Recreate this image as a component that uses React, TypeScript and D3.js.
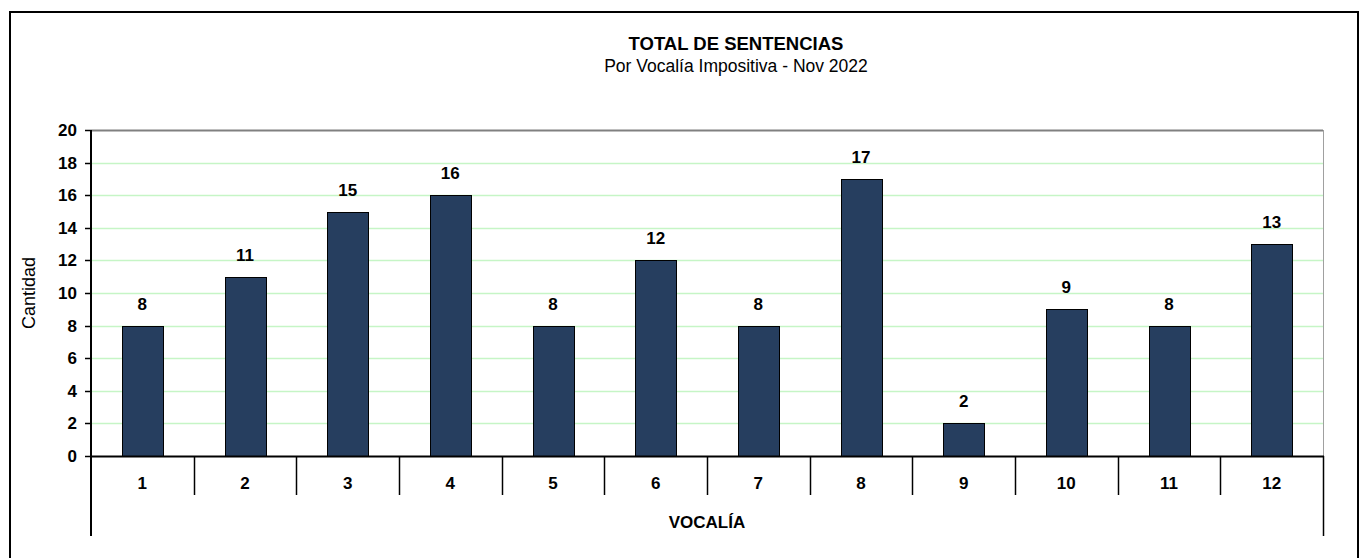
import React, { useEffect, useRef } from 'react';
import * as d3 from 'd3';

const categories = ['1', '2', '3', '4', '5', '6', '7', '8', '9', '10', '11', '12'];
const values = [8, 11, 15, 16, 8, 12, 8, 17, 2, 9, 8, 13];
const yTicks = [0, 2, 4, 6, 8, 10, 12, 14, 16, 18, 20];

const title = 'TOTAL DE SENTENCIAS';
const subtitle = 'Por Vocalía Impositiva - Nov 2022';
const xTitle = 'VOCALÍA';
const yTitle = 'Cantidad';

const App = () => {
  const svgRef = useRef<SVGSVGElement>(null);

  useEffect(() => {
    if (!svgRef.current) return;
    const svg = d3.select(svgRef.current);
    svg.selectAll('*').remove();

    const width = 1367;
    const height = 558;
    const plot = { left: 91, right: 1323, top: 130, bottom: 456 };
    const font = 'Liberation Sans, Arial, sans-serif';

    svg.attr('width', width).attr('height', height).style('font-family', font);

    // outer frame
    svg.append('rect')
      .attr('x', 10).attr('y', 12)
      .attr('width', 1348).attr('height', 600)
      .attr('fill', '#fff')
      .attr('stroke', '#000')
      .attr('stroke-width', 2);

    const x = d3.scaleBand()
      .domain(categories)
      .range([plot.left, plot.right])
      .paddingInner(0)
      .paddingOuter(0);

    const y = d3.scaleLinear()
      .domain([0, 20])
      .range([plot.bottom, plot.top]);

    // grid
    svg.append('g')
      .selectAll('line')
      .data(yTicks.filter(t => t > 0))
      .enter()
      .append('line')
      .attr('x1', plot.left).attr('x2', plot.right)
      .attr('y1', d => Math.round(y(d)) + 0.5)
      .attr('y2', d => Math.round(y(d)) + 0.5)
      .attr('stroke', d => (d === 20 ? '#808080' : '#c6f5c6'))
      .attr('stroke-width', d => (d === 20 ? 2 : 1.5));

    // right border of plot area
    svg.append('line')
      .attr('x1', plot.right + 0.5).attr('x2', plot.right + 0.5)
      .attr('y1', plot.top).attr('y2', plot.bottom)
      .attr('stroke', '#a0a0a0').attr('stroke-width', 1);

    // bars
    const barW = 41;
    svg.append('g')
      .selectAll('rect')
      .data(values)
      .enter()
      .append('rect')
      .attr('x', (d, i) => Math.round((x(categories[i]) as number) + x.bandwidth() / 2 - barW / 2) + 0.5)
      .attr('y', d => Math.round(y(d)) + 0.5)
      .attr('width', barW)
      .attr('height', d => plot.bottom - Math.round(y(d)))
      .attr('fill', '#263e5f')
      .attr('stroke', '#000')
      .attr('stroke-width', 1);

    // value labels
    svg.append('g')
      .selectAll('text')
      .data(values)
      .enter()
      .append('text')
      .attr('x', (d, i) => (x(categories[i]) as number) + x.bandwidth() / 2)
      .attr('y', d => y(d) - 16)
      .attr('text-anchor', 'middle')
      .attr('font-size', 17)
      .attr('font-weight', 'bold')
      .text(d => d);

    // y axis
    const yAxis = svg.append('g');
    yAxis.append('line')
      .attr('x1', plot.left).attr('x2', plot.left)
      .attr('y1', plot.top).attr('y2', 536)
      .attr('stroke', '#000').attr('stroke-width', 2);
    yAxis.selectAll('line.tick')
      .data(yTicks)
      .enter()
      .append('line')
      .attr('class', 'tick')
      .attr('x1', plot.left - 6).attr('x2', plot.left)
      .attr('y1', d => Math.round(y(d)) + 0.5)
      .attr('y2', d => Math.round(y(d)) + 0.5)
      .attr('stroke', '#000').attr('stroke-width', 1.5);
    yAxis.selectAll('text')
      .data(yTicks)
      .enter()
      .append('text')
      .attr('x', 77)
      .attr('y', d => y(d) + 6)
      .attr('text-anchor', 'end')
      .attr('font-size', 17)
      .attr('font-weight', 'bold')
      .text(d => d);

    // x axis
    const xAxis = svg.append('g');
    xAxis.append('line')
      .attr('x1', plot.left).attr('x2', plot.right + 1)
      .attr('y1', plot.bottom + 0.5).attr('y2', plot.bottom + 0.5)
      .attr('stroke', '#000').attr('stroke-width', 2);
    xAxis.selectAll('line.sep')
      .data(categories.slice(1))
      .enter()
      .append('line')
      .attr('class', 'sep')
      .attr('x1', d => Math.round(x(d) as number) + 0.5)
      .attr('x2', d => Math.round(x(d) as number) + 0.5)
      .attr('y1', plot.bottom).attr('y2', 495)
      .attr('stroke', '#000').attr('stroke-width', 1.5);
    xAxis.append('line')
      .attr('x1', plot.right + 0.5).attr('x2', plot.right + 0.5)
      .attr('y1', plot.bottom).attr('y2', 536)
      .attr('stroke', '#000').attr('stroke-width', 1.5);
    xAxis.selectAll('text')
      .data(categories)
      .enter()
      .append('text')
      .attr('x', d => (x(d) as number) + x.bandwidth() / 2)
      .attr('y', 489)
      .attr('text-anchor', 'middle')
      .attr('font-size', 17)
      .attr('font-weight', 'bold')
      .text(d => d);

    svg.append('text')
      .attr('x', (plot.left + plot.right) / 2)
      .attr('y', 528)
      .attr('text-anchor', 'middle')
      .attr('font-size', 17)
      .attr('font-weight', 'bold')
      .text(xTitle);

    svg.append('text')
      .attr('transform', `translate(35,${(plot.top + plot.bottom) / 2}) rotate(-90)`)
      .attr('text-anchor', 'middle')
      .attr('font-size', 18)
      .text(yTitle);

    // titles
    svg.append('text')
      .attr('x', 736)
      .attr('y', 50)
      .attr('text-anchor', 'middle')
      .attr('font-size', 18.5)
      .attr('font-weight', 'bold')
      .text(title);

    svg.append('text')
      .attr('x', 736)
      .attr('y', 72)
      .attr('text-anchor', 'middle')
      .attr('font-size', 17.5)
      .text(subtitle);
  }, []);

  return (
    <div style={{ position: 'absolute', left: 0, top: 0 }}>
      <svg ref={svgRef} style={{ display: 'block' }}></svg>
    </div>
  );
};

export default App;
